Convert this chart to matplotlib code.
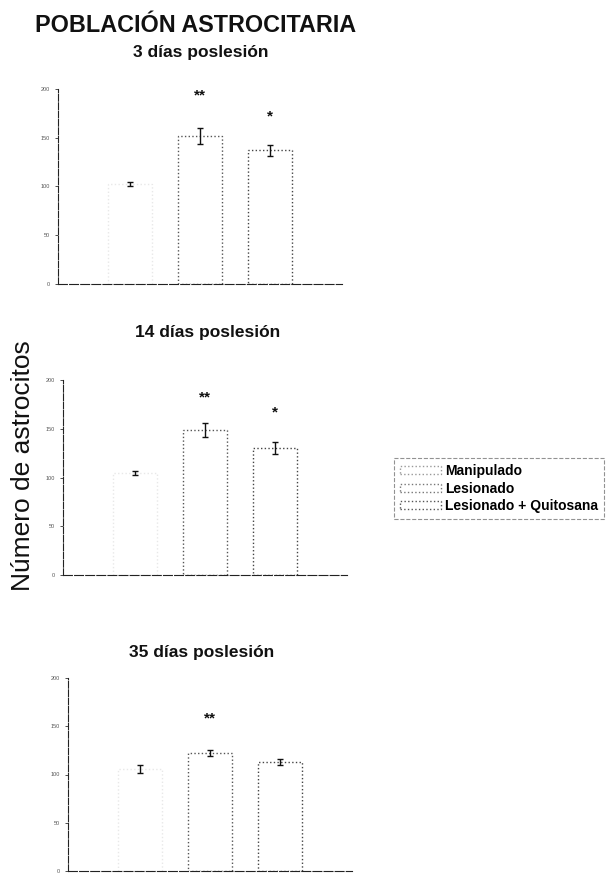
import matplotlib
matplotlib.use("Agg")
from matplotlib import pyplot as plt
from matplotlib.patches import Patch

plt.rcParams["font.family"] = ["Liberation Sans", "DejaVu Sans"]

groups = ["Manipulado", "Lesionado", "Lesionado + Quitosana"]
panel_titles = ["3 días poslesión", "14 días poslesión", "35 días poslesión"]

# mean number of astrocytes per group, one list per time point
means_3d = [103, 152, 137]
means_14d = [105, 149, 130]
means_35d = [106, 122, 113]
errs_3d = [2, 8, 6]
errs_14d = [2, 7, 6]
errs_35d = [4, 3, 3]
stars_3d = ["", "**", "*"]
stars_14d = ["", "**", "*"]
stars_35d = ["", "**", ""]
star_y_3d = [0, 193, 172]
star_y_14d = [0, 182, 167]
star_y_35d = [0, 158, 0]
yticks = [0, 50, 100, 150, 200]

edge_colors = ["#e8e8e8", "#555555", "#444444"]

fig = plt.figure(figsize=(6.06, 8.75), dpi=100)

# axes rectangles in figure fractions
rects = [
    [58 / 606, 1 - 284 / 875, 284 / 606, 195 / 875],
    [63 / 606, 1 - 575 / 875, 284 / 606, 195 / 875],
    [68 / 606, 1 - 871 / 875, 284 / 606, 193 / 875],
]
panels = [
    (means_3d, errs_3d, stars_3d, star_y_3d),
    (means_14d, errs_14d, stars_14d, star_y_14d),
    (means_35d, errs_35d, stars_35d, star_y_35d),
]
title_pos = [(201, 53), (208, 332), (202, 653)]

x = range(len(groups))
for rect, (means, errs, stars, star_y), title, (tx, ty) in zip(
    rects, panels, panel_titles, title_pos
):
    ax = fig.add_axes(rect)
    ax.bar(x, means, width=0.62, color="white", linewidth=1.0,
           edgecolor=edge_colors, linestyle=":", zorder=2)
    ax.errorbar(x, means, yerr=errs, fmt="none", ecolor="#111111",
                elinewidth=1.0, capsize=2.5, capthick=1.0, zorder=3)
    for xi, s, sy in zip(x, stars, star_y):
        if s:
            ax.text(xi, sy, s, ha="center", va="center", fontsize=11,
                    fontweight="bold", color="#111111")
    ax.set_xlim(-1.03, 3.03)
    ax.set_ylim(0, 200)
    ax.set_yticks(yticks)
    ax.set_yticklabels([str(t) for t in yticks], fontsize=4, color="#555555")
    ax.set_xticks([])
    ax.tick_params(axis="y", length=2, width=0.6, pad=4, color="#333333")
    for side in ["top", "right"]:
        ax.spines[side].set_visible(False)
    ax.spines["left"].set_color("#222222")
    ax.spines["left"].set_linestyle((0, (6, 1.5)))
    ax.spines["bottom"].set_color("#222222")
    ax.spines["bottom"].set_linestyle((0, (8, 2)))
    ax.patch.set_alpha(0)
    fig.text(tx / 606, 1 - ty / 875, title, ha="center", va="center",
             fontsize=12.5, fontweight="bold", color="#111111")

fig.text(196 / 606, 1 - 25 / 875, "POBLACIÓN ASTROCITARIA", ha="center",
         va="center", fontsize=16.8, fontweight="bold", color="#111111")
fig.text(23 / 606, 1 - 466 / 875, "Número de astrocitos", rotation=90,
         ha="center", va="center", fontsize=19, color="#111111")

handles = [Patch(facecolor="white", edgecolor=c, linestyle=":", linewidth=1.0)
           for c in ["#999999", "#777777", "#555555"]]
leg = fig.legend(handles, groups, loc="upper left",
                 bbox_to_anchor=(394 / 606, 1 - 458 / 875),
                 prop={"size": 10, "weight": "bold"}, handlelength=2.9,
                 handleheight=0.5, handletextpad=0.3, labelspacing=0.25,
                 borderpad=0.45, borderaxespad=0, fancybox=False)
leg.get_frame().set_edgecolor("#777777")
leg.get_frame().set_linestyle("--")
leg.get_frame().set_linewidth(0.8)

fig.savefig("out.png", dpi=100)
